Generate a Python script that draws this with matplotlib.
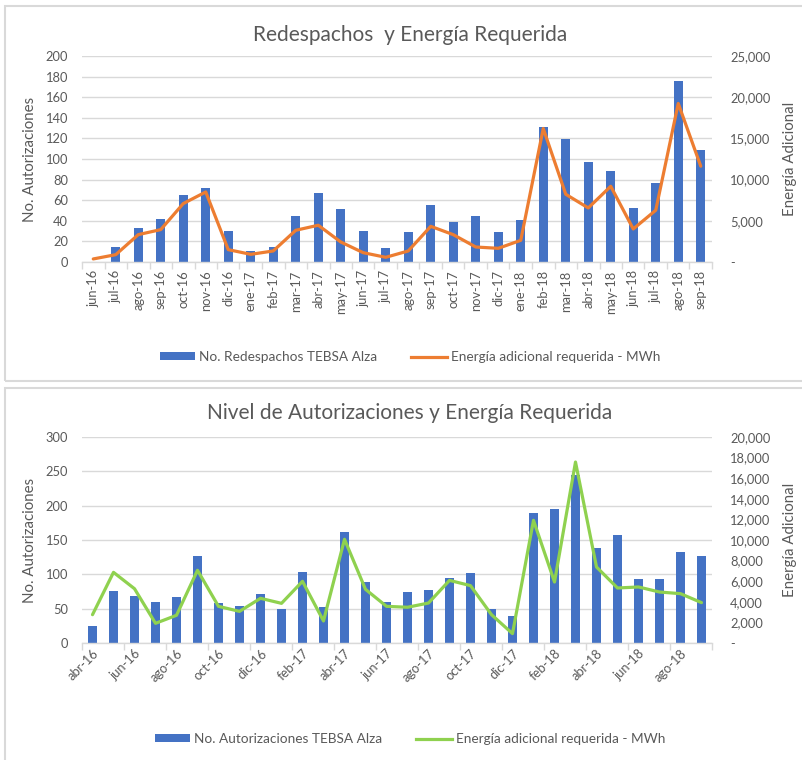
import matplotlib
matplotlib.use("Agg")
import matplotlib.pyplot as plt
from matplotlib.patches import Rectangle, Patch
from matplotlib.lines import Line2D
from matplotlib.ticker import FuncFormatter, MultipleLocator

plt.rcParams['font.family'] = ['Lato', 'DejaVu Sans']

# ---------------- data ----------------
months_top = ["jun-16", "jul-16", "ago-16", "sep-16", "oct-16", "nov-16", "dic-16",
              "ene-17", "feb-17", "mar-17", "abr-17", "may-17", "jun-17", "jul-17",
              "ago-17", "sep-17", "oct-17", "nov-17", "dic-17", "ene-18", "feb-18",
              "mar-18", "abr-18", "may-18", "jun-18", "jul-18", "ago-18", "sep-18"]
redespachos = [0, 15, 33, 42, 65, 72, 30, 11, 15, 45, 67, 51, 30, 14,
               29, 55, 39, 45, 29, 41, 131, 119, 97, 88, 52, 77, 176, 109]
energia_top = [370, 890, 3320, 3930, 7090, 8500, 1500, 930, 1340, 3850, 4460, 2430,
               1130, 570, 1340, 4330, 3320, 1820, 1660, 2630, 16200, 8220, 6560,
               9190, 4010, 6280, 19240, 11630]

months_bot = ["abr-16", "may-16", "jun-16", "jul-16", "ago-16", "sep-16", "oct-16",
              "nov-16", "dic-16", "ene-17", "feb-17", "mar-17", "abr-17", "may-17",
              "jun-17", "jul-17", "ago-17", "sep-17", "oct-17", "nov-17", "dic-17",
              "ene-18", "feb-18", "mar-18", "abr-18", "may-18", "jun-18", "jul-18",
              "ago-18", "sep-18"]
autorizaciones = [25, 76, 68, 59, 67, 126, 58, 54, 71, 50, 103, 52, 161, 89, 60, 75,
                  77, 94, 102, 49, 40, 190, 195, 245, 139, 158, 93, 93, 132, 126]
energia_bot = [2750, 6860, 5270, 1910, 2690, 7060, 3560, 3070, 4340, 3850, 5990, 2140,
               10070, 5210, 3560, 3470, 3880, 6080, 5570, 2750, 910, 11910, 5920,
               17570, 7380, 5340, 5440, 4950, 4790, 3920]

BAR = "#4472C4"
ORANGE = "#ED7D31"
GREEN = "#8FD14F"
TXT = "#595959"
GRID = "#D9D9D9"

W, H = 803, 760
fig = plt.figure(figsize=(W / 100, H / 100), dpi=100)
fig.patch.set_facecolor("white")

def px_rect(l, t, r, b):
    return [l / W, (H - b) / H, (r - l) / W, (b - t) / H]

# panel borders
for (l, t, r, b) in [(5, 6, 810, 381), (5, 388, 810, 770)]:
    fig.add_artist(Rectangle((l / W, (H - b) / H), (r - l) / W, (b - t) / H,
                             transform=fig.transFigure, fill=False,
                             edgecolor="#D9D9D9", linewidth=1.5))

def comma_fmt(v, pos):
    if abs(v) < 1e-9:
        return "-"
    return f"{v:,.0f}"

def make_chart(rect, cats, bars, line, lcolor, ymax, ystep, y2max, y2step,
               title, title_y, bar_label, legend_y, rot, every):
    ax = fig.add_axes(rect)
    n = len(cats)
    x = list(range(n))
    ax.bar(x, bars, width=0.42, color=BAR, zorder=2)
    ax.set_xlim(-0.5, n - 0.5)
    ax.set_ylim(0, ymax)
    ax.yaxis.set_major_locator(MultipleLocator(ystep))
    ax.grid(axis="y", color=GRID, linewidth=1, zorder=0)
    ax.set_axisbelow(True)
    for s in ["top", "right", "left"]:
        ax.spines[s].set_visible(False)
    ax.spines["bottom"].set_color(GRID)
    ax.spines["bottom"].set_linewidth(1)
    ax.tick_params(axis="y", length=0, labelsize=9.3, labelcolor=TXT, pad=10)
    # categories
    ax.set_xticks(x[::every])
    ax.set_xticklabels(cats[::every], fontsize=9.3, color=TXT,
                       rotation=rot, ha="center" if rot == 90 else "right",
                       va="top", rotation_mode="anchor" if rot != 90 else "default")
    ax.tick_params(axis="x", length=0, pad=6 if rot == 90 else 3)
    # boundary tick marks
    bounds = [i - 0.5 for i in range(0, n + 1, every)]
    ax.set_xticks(bounds, minor=True)
    ax.tick_params(axis="x", which="minor", length=5, color=GRID, width=1)
    ax.set_ylabel("No. Autorizaciones", fontsize=10.8, color=TXT)
    ax.yaxis.set_label_coords(-0.071, 0.5)

    ax2 = ax.twinx()
    ax2.plot(x, line, color=lcolor, linewidth=2.3, zorder=3,
             solid_joinstyle="round", solid_capstyle="round")
    ax2.set_ylim(0, y2max)
    ax2.yaxis.set_major_locator(MultipleLocator(y2step))
    ax2.yaxis.set_major_formatter(FuncFormatter(comma_fmt))
    for s in ["top", "right", "left", "bottom"]:
        ax2.spines[s].set_visible(False)
    ax2.tick_params(axis="y", length=0, labelsize=9.3, labelcolor=TXT, pad=13)
    ax2.set_ylabel("Energía Adicional", fontsize=10.8, color=TXT)
    ax2.yaxis.set_label_coords(1.113, 0.5)

    fig.text(410 / W, (H - title_y) / H, title, fontsize=15, color=TXT,
             ha="center", va="center")
    handles = [Patch(facecolor=BAR, edgecolor="none"),
               Line2D([0], [0], color=lcolor, linewidth=2.3)]
    fig.legend(handles, [bar_label, "Energía adicional requerida - MWh"],
               loc="center", bbox_to_anchor=(410 / W, (H - legend_y) / H),
               ncol=2, frameon=False, fontsize=9.8, labelcolor=TXT,
               handlelength=2.6, handleheight=0.45, handletextpad=0.3,
               columnspacing=2.5)
    return ax, ax2

make_chart(px_rect(82, 56, 712, 262), months_top, redespachos, energia_top, ORANGE,
           200, 20, 25000, 5000, "Redespachos  y Energía Requerida", 35,
           "No. Redespachos TEBSA Alza", 357, 90, 1)

make_chart(px_rect(82, 437, 712, 643), months_bot, autorizaciones, energia_bot, GREEN,
           300, 50, 20000, 2000, "Nivel de Autorizaciones y Energía Requerida", 413,
           "No. Autorizaciones TEBSA Alza", 739, 45, 2)

fig.savefig("out.png", dpi=100, facecolor="white")
